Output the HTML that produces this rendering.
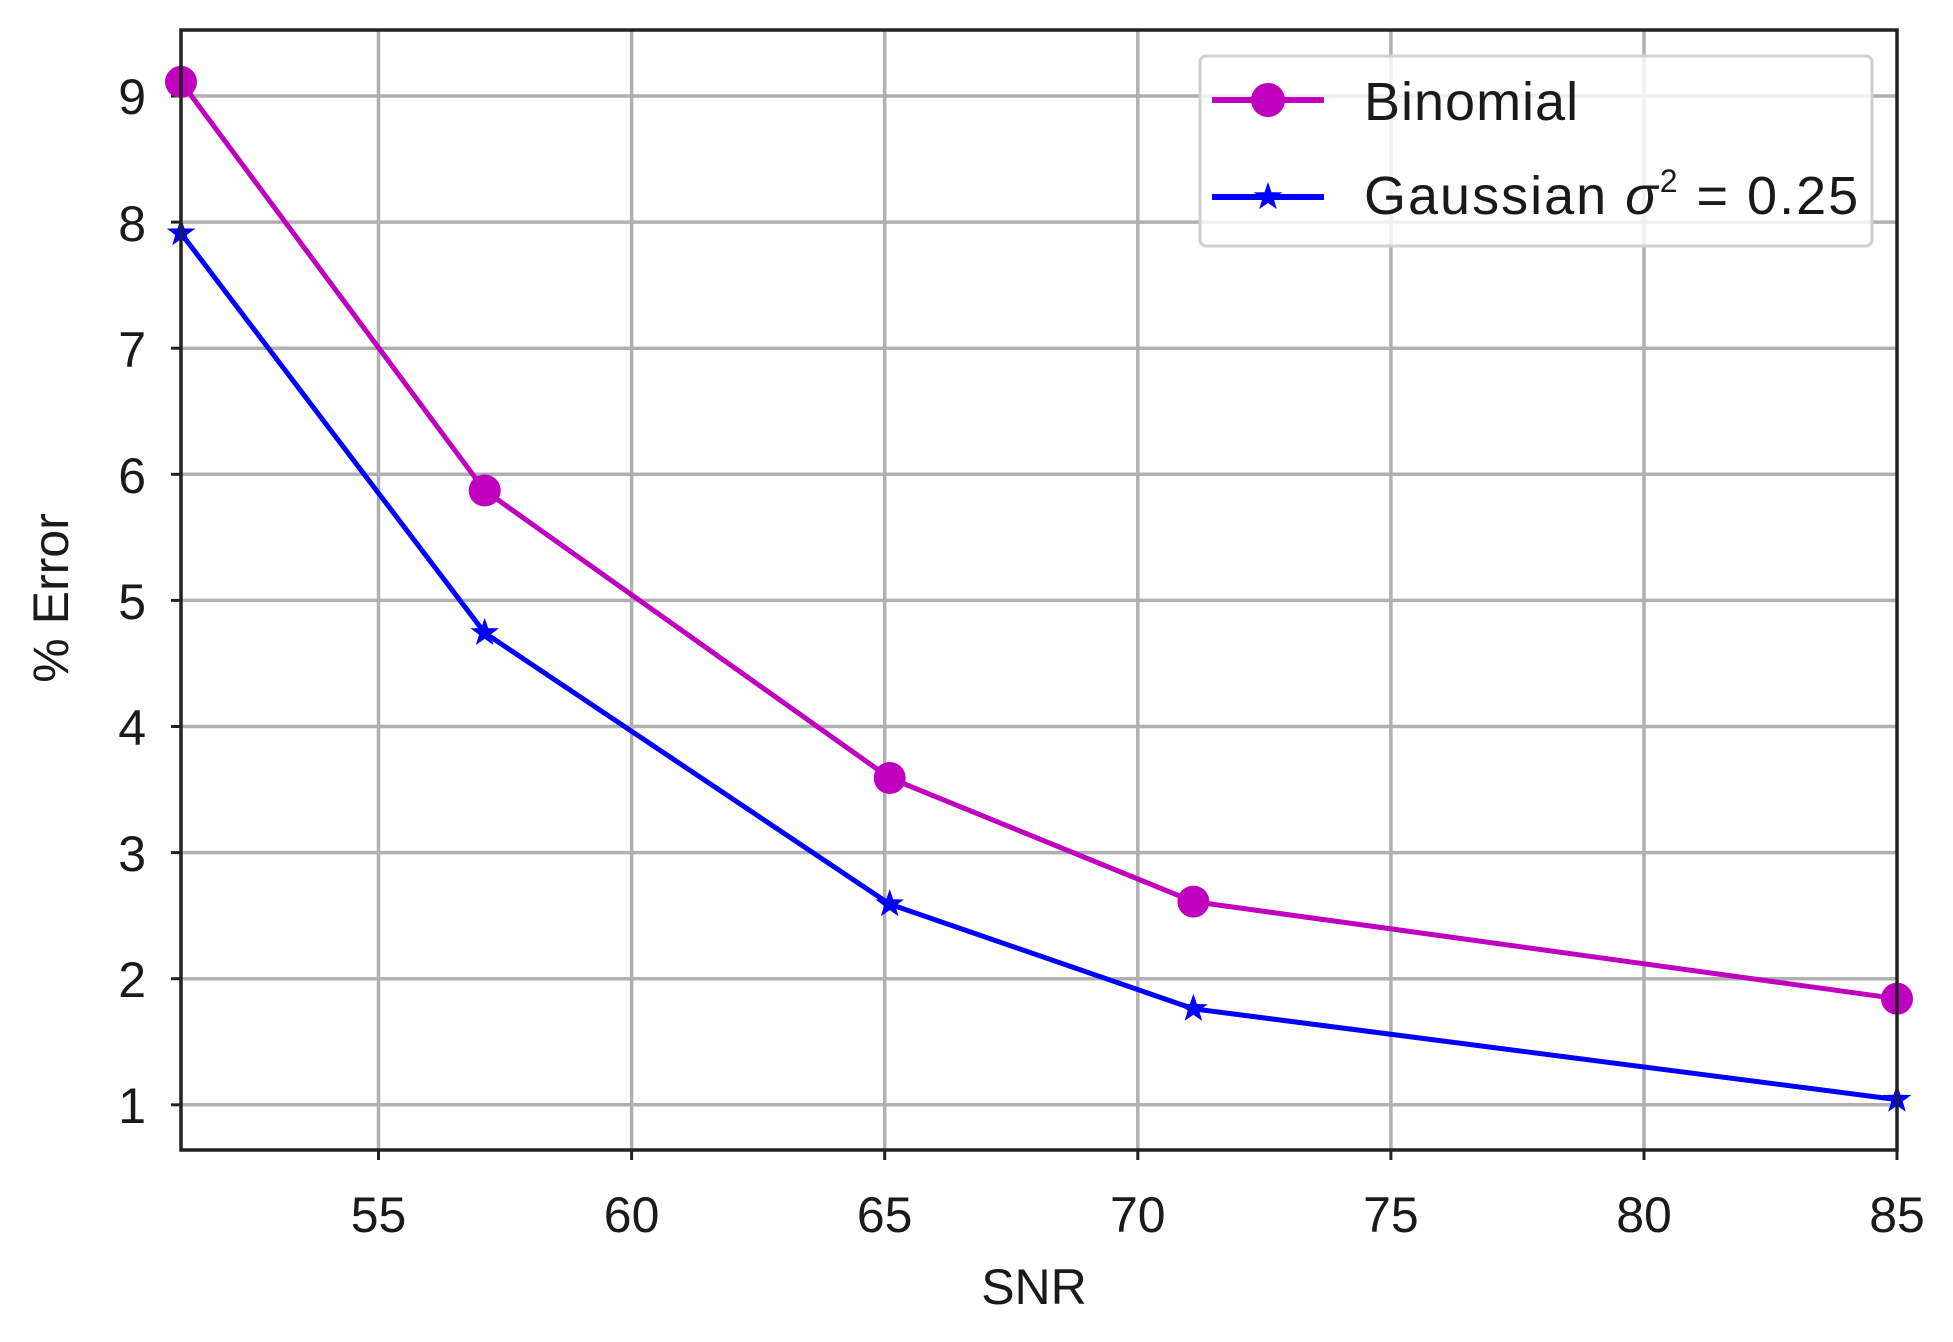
<!DOCTYPE html>
<html><head><style>body{margin:0;background:#fff}svg{display:block}</style></head>
<body>
<svg width="1953" height="1342" viewBox="0 0 1953 1342" xmlns="http://www.w3.org/2000/svg" font-family="Liberation Sans, DejaVu Sans, sans-serif">
<rect width="1953" height="1342" fill="#fff"/>
<g stroke="#b0b0b0" stroke-width="3.5">
<line x1="378.5" y1="30" x2="378.5" y2="1150"/>
<line x1="631.6" y1="30" x2="631.6" y2="1150"/>
<line x1="884.7" y1="30" x2="884.7" y2="1150"/>
<line x1="1137.8" y1="30" x2="1137.8" y2="1150"/>
<line x1="1390.9" y1="30" x2="1390.9" y2="1150"/>
<line x1="1644" y1="30" x2="1644" y2="1150"/>
<line x1="181" y1="1104.8" x2="1897" y2="1104.8"/>
<line x1="181" y1="978.7" x2="1897" y2="978.7"/>
<line x1="181" y1="852.6" x2="1897" y2="852.6"/>
<line x1="181" y1="726.5" x2="1897" y2="726.5"/>
<line x1="181" y1="600.4" x2="1897" y2="600.4"/>
<line x1="181" y1="474.3" x2="1897" y2="474.3"/>
<line x1="181" y1="348.2" x2="1897" y2="348.2"/>
<line x1="181" y1="222.1" x2="1897" y2="222.1"/>
<line x1="181" y1="96" x2="1897" y2="96"/>
</g>
<g stroke="#222" stroke-width="3">
<line x1="378.5" y1="1150" x2="378.5" y2="1160"/><line x1="631.6" y1="1150" x2="631.6" y2="1160"/><line x1="884.7" y1="1150" x2="884.7" y2="1160"/><line x1="1137.8" y1="1150" x2="1137.8" y2="1160"/><line x1="1390.9" y1="1150" x2="1390.9" y2="1160"/><line x1="1644" y1="1150" x2="1644" y2="1160"/><line x1="1897" y1="1150" x2="1897" y2="1160"/>
<line x1="171" y1="1104.8" x2="181" y2="1104.8"/><line x1="171" y1="978.7" x2="181" y2="978.7"/><line x1="171" y1="852.6" x2="181" y2="852.6"/><line x1="171" y1="726.5" x2="181" y2="726.5"/><line x1="171" y1="600.4" x2="181" y2="600.4"/><line x1="171" y1="474.3" x2="181" y2="474.3"/><line x1="171" y1="348.2" x2="181" y2="348.2"/><line x1="171" y1="222.1" x2="181" y2="222.1"/><line x1="171" y1="96" x2="181" y2="96"/>
</g>
<polyline fill="none" stroke="#bf00bf" stroke-width="5" points="181,81.9 484.7,490.5 889.7,778 1193.4,901.6 1897,998.7"/>
<polyline fill="none" stroke="#0000ff" stroke-width="5" points="181,233.2 484.7,632.9 889.7,904.1 1193.4,1008.8 1897,1099.6"/>
<g fill="#bf00bf">
<circle cx="181" cy="81.9" r="16"/><circle cx="484.7" cy="490.5" r="16"/><circle cx="889.7" cy="778" r="16"/><circle cx="1193.4" cy="901.6" r="16"/><circle cx="1897" cy="998.7" r="16"/>
</g>
<defs><polygon id="st" points="0,-15 3.5,-4.8 14.3,-4.6 5.7,1.8 8.8,12.1 0,6 -8.8,12.1 -5.7,1.8 -14.3,-4.6 -3.5,-4.8" fill="#0000ff"/></defs>
<use href="#st" x="181" y="233.2"/><use href="#st" x="484.7" y="632.9"/><use href="#st" x="889.7" y="904.1"/><use href="#st" x="1193.4" y="1008.8"/><use href="#st" x="1897" y="1099.6"/>
<rect x="181" y="30" width="1716" height="1120" fill="none" stroke="#222" stroke-width="3.5"/>
<rect x="1200" y="56" width="672" height="190" rx="6" fill="#fff" fill-opacity="0.8" stroke="#d0d0d0" stroke-width="3"/>
<line x1="1212" y1="100" x2="1324" y2="100" stroke="#bf00bf" stroke-width="6"/>
<circle cx="1268" cy="100" r="17" fill="#bf00bf"/>
<line x1="1212" y1="197" x2="1324" y2="197" stroke="#0000ff" stroke-width="6"/>
<use href="#st" x="1268" y="197"/>
<g font-size="54" fill="#1a1a1a">
<text x="1364" y="120" letter-spacing="1">Binomial</text>
<text x="1364" y="214" letter-spacing="2">Gaussian <tspan font-style="italic">σ</tspan><tspan font-size="32" dy="-22">2</tspan><tspan dy="22"> = 0.25</tspan></text>
</g>
<g font-size="50" fill="#1a1a1a" text-anchor="middle">
<text x="378.5" y="1232">55</text><text x="631.6" y="1232">60</text><text x="884.7" y="1232">65</text><text x="1137.8" y="1232">70</text><text x="1390.9" y="1232">75</text><text x="1644" y="1232">80</text><text x="1897" y="1232">85</text>
<text x="1034" y="1304">SNR</text>
</g>
<g font-size="50" fill="#1a1a1a" text-anchor="end">
<text x="146" y="1123">1</text><text x="146" y="997">2</text><text x="146" y="871">3</text><text x="146" y="745">4</text><text x="146" y="619">5</text><text x="146" y="493">6</text><text x="146" y="367">7</text><text x="146" y="241">8</text><text x="146" y="114">9</text>
</g>
<text transform="translate(68,598) rotate(-90)" font-size="50" fill="#1a1a1a" text-anchor="middle">% Error</text>
</svg>
</body></html>
